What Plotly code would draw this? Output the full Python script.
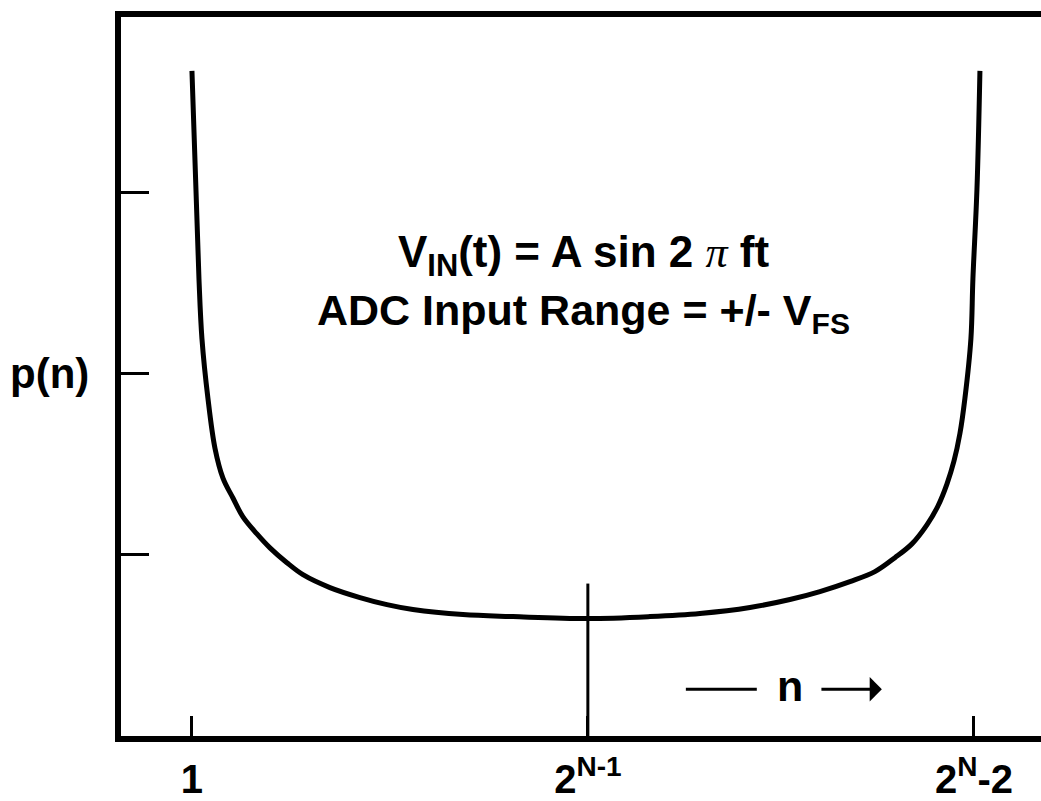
import plotly.graph_objects as go

# Code-density curve of a sinewave input: p(n) versus output code n (arbitrary units)
n_codes = [0.0, 0.0102, 0.0179, 0.0255, 0.0408, 0.0587, 0.0791, 0.1046, 0.1301,
           0.1658, 0.1990, 0.2423, 0.2832, 0.3520, 0.4286, 0.4974, 0.5638, 0.6913,
           0.8189, 1.010, 1.1684, 1.2959, 1.4235, 1.5255, 1.6020, 1.6786, 1.7423,
           1.7934, 1.8367, 1.8750, 1.9031, 1.9260, 1.9439, 1.9592, 1.9719, 1.9872,
           1.9923, 2.0026, 2.0102]
p_n = [3.670, 3.016, 2.522, 2.192, 1.863, 1.588, 1.423, 1.313, 1.209,
       1.115, 1.038, 0.956, 0.890, 0.819, 0.764, 0.725, 0.698, 0.670,
       0.659, 0.648, 0.659, 0.676, 0.709, 0.753, 0.797, 0.852, 0.907,
       0.984, 1.060, 1.165, 1.269, 1.390, 1.516, 1.670, 1.863, 2.192,
       2.522, 3.016, 3.670]

x_tick_vals = [0.0, 1.01, 1.995]
x_tick_text = ["1", "2<sup>N-1</sup>", "2<sup>N</sup>-2"]
y_tick_vals = [1, 2, 3]

mid_code = 1.01          # 2^(N-1)
mid_marker_top = 0.841   # height of the mid-code marker line

x_range = [-0.181, 2.166]
y_range = [0.0, 3.967]

BOLD = "Liberation Sans, Arial, sans-serif"

fig = go.Figure()
fig.add_trace(go.Scatter(
    x=n_codes, y=p_n, mode="lines",
    line=dict(color="black", width=5, shape="spline", smoothing=1.0),
    hoverinfo="skip", showlegend=False,
))

fig.add_shape(type="line", xref="x", yref="y",
              x0=mid_code, x1=mid_code, y0=0, y1=mid_marker_top,
              line=dict(color="black", width=3))

# "—— n ——>" direction indicator
fig.add_shape(type="line", xref="x", yref="y",
              x0=1.260, x1=1.441, y0=0.258, y1=0.258,
              line=dict(color="black", width=3))
fig.add_annotation(x=1.526, y=0.277, xref="x", yref="y", text="<b>n</b>",
                   showarrow=False, font=dict(family=BOLD, size=43, color="black"))
fig.add_annotation(x=1.760, y=0.258, ax=1.602, ay=0.258, xref="x", yref="y",
                   axref="x", ayref="y", text="", showarrow=True,
                   arrowhead=1, arrowsize=1.35, arrowwidth=3, arrowcolor="black")

pi_span = ("<span style=\"font-family:'Liberation Serif', serif;font-weight:normal\">"
           "<i>π</i></span>")
fig.add_annotation(x=1.0, y=2.655, xref="x", yref="y",
                   text=f"<b>V<sub>IN</sub>(t) = A sin 2 {pi_span} ft</b>",
                   showarrow=False, font=dict(family=BOLD, size=44, color="black"))
fig.add_annotation(x=1.0, y=2.335, xref="x", yref="y",
                   text="<b>ADC Input Range = +/- V<sub>FS</sub></b>",
                   showarrow=False, font=dict(family=BOLD, size=43, color="black"))

# horizontal y-axis title
fig.add_annotation(x=-0.0772, y=2.0, xref="paper", yref="y", text="<b>p(n)</b>",
                   xanchor="center", yanchor="middle",
                   showarrow=False, font=dict(family=BOLD, size=42, color="black"))

fig.update_xaxes(range=x_range, showgrid=False, zeroline=False,
                 showline=True, linecolor="black", linewidth=6, mirror=True,
                 tickmode="array", tickvals=x_tick_vals, ticktext=x_tick_text,
                 ticks="inside", ticklen=20, tickwidth=3, tickcolor="black",
                 ticklabelstandoff=3,
                 tickfont=dict(family=BOLD, size=40, color="black", weight="bold"))
fig.update_yaxes(range=y_range, showgrid=False, zeroline=False,
                 showline=True, linecolor="black", linewidth=6, mirror=False,
                 tickmode="array", tickvals=y_tick_vals, showticklabels=False,
                 ticks="inside", ticklen=28, tickwidth=3, tickcolor="black")

fig.update_layout(width=1041, height=801,
                  margin=dict(l=121, r=0, t=17, b=62, pad=0),
                  paper_bgcolor="white", plot_bgcolor="white")

fig.write_html("out.html")
